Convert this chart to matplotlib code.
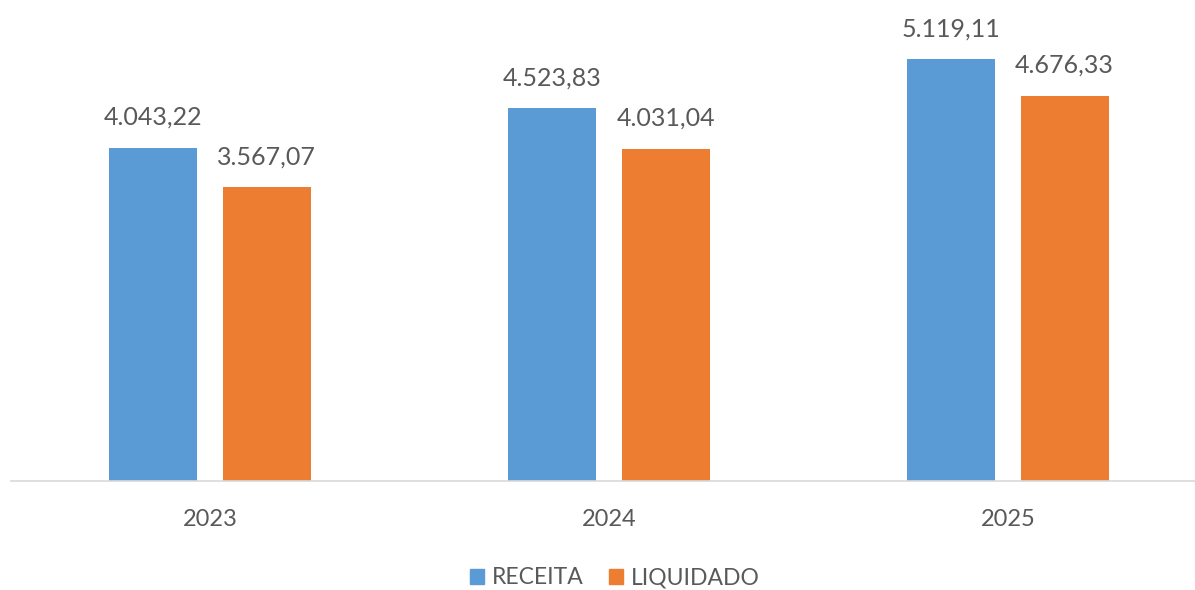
import matplotlib
matplotlib.use("Agg")
import matplotlib.pyplot as plt
from matplotlib.patches import Patch
import numpy as np

plt.rcParams['font.family'] = ['Lato', 'DejaVu Sans']

categories = ["2023", "2024", "2025"]
receita = [4043.22, 4523.83, 5119.11]
liquidado = [3567.07, 4031.04, 4676.33]
series_names = ["RECEITA", "LIQUIDADO"]

def fmt(v):
    s = f"{v:,.2f}"
    return s.replace(",", "X").replace(".", ",").replace("X", ".")

fig = plt.figure(figsize=(11.95, 5.9), dpi=100)
ax = fig.add_axes([10.5/1195, (590-481)/590, 1197/1195, 481/590])

x = np.arange(len(categories))
w = 0.22
off = 0.142
blue = "#5B9BD5"
orange = "#ED7D31"
txt = "#595959"

b1 = ax.bar(x - off, receita, w, color=blue)
b2 = ax.bar(x + off, liquidado, w, color=orange)
for bars, vals in ((b1, receita), (b2, liquidado)):
    for r, v in zip(bars, vals):
        ax.text(r.get_x() + r.get_width()/2, v + 230, fmt(v), ha="center", va="bottom",
                fontsize=18, color=txt)

ax.set_xlim(-0.5, 2.5)
ax.set_ylim(0, 5840)
ax.set_xticks(x)
ax.set_xticklabels(categories, fontsize=17, color=txt)
ax.tick_params(axis='x', length=0, pad=20)
ax.set_yticks([])
for s in ("top", "right", "left"):
    ax.spines[s].set_visible(False)
ax.spines["bottom"].set_color("#D9D9D9")
ax.spines["bottom"].set_linewidth(1.2)

handles = [Patch(color=blue), Patch(color=orange)]
fig.legend(handles, series_names, loc="center", bbox_to_anchor=(615/1195, 1 - 578/590),
           ncol=2, frameon=False, fontsize=16.5, handlelength=0.62, handleheight=0.62,
           handletextpad=0.35, columnspacing=1.1, labelcolor=txt)

fig.savefig("out.png", dpi=100)
